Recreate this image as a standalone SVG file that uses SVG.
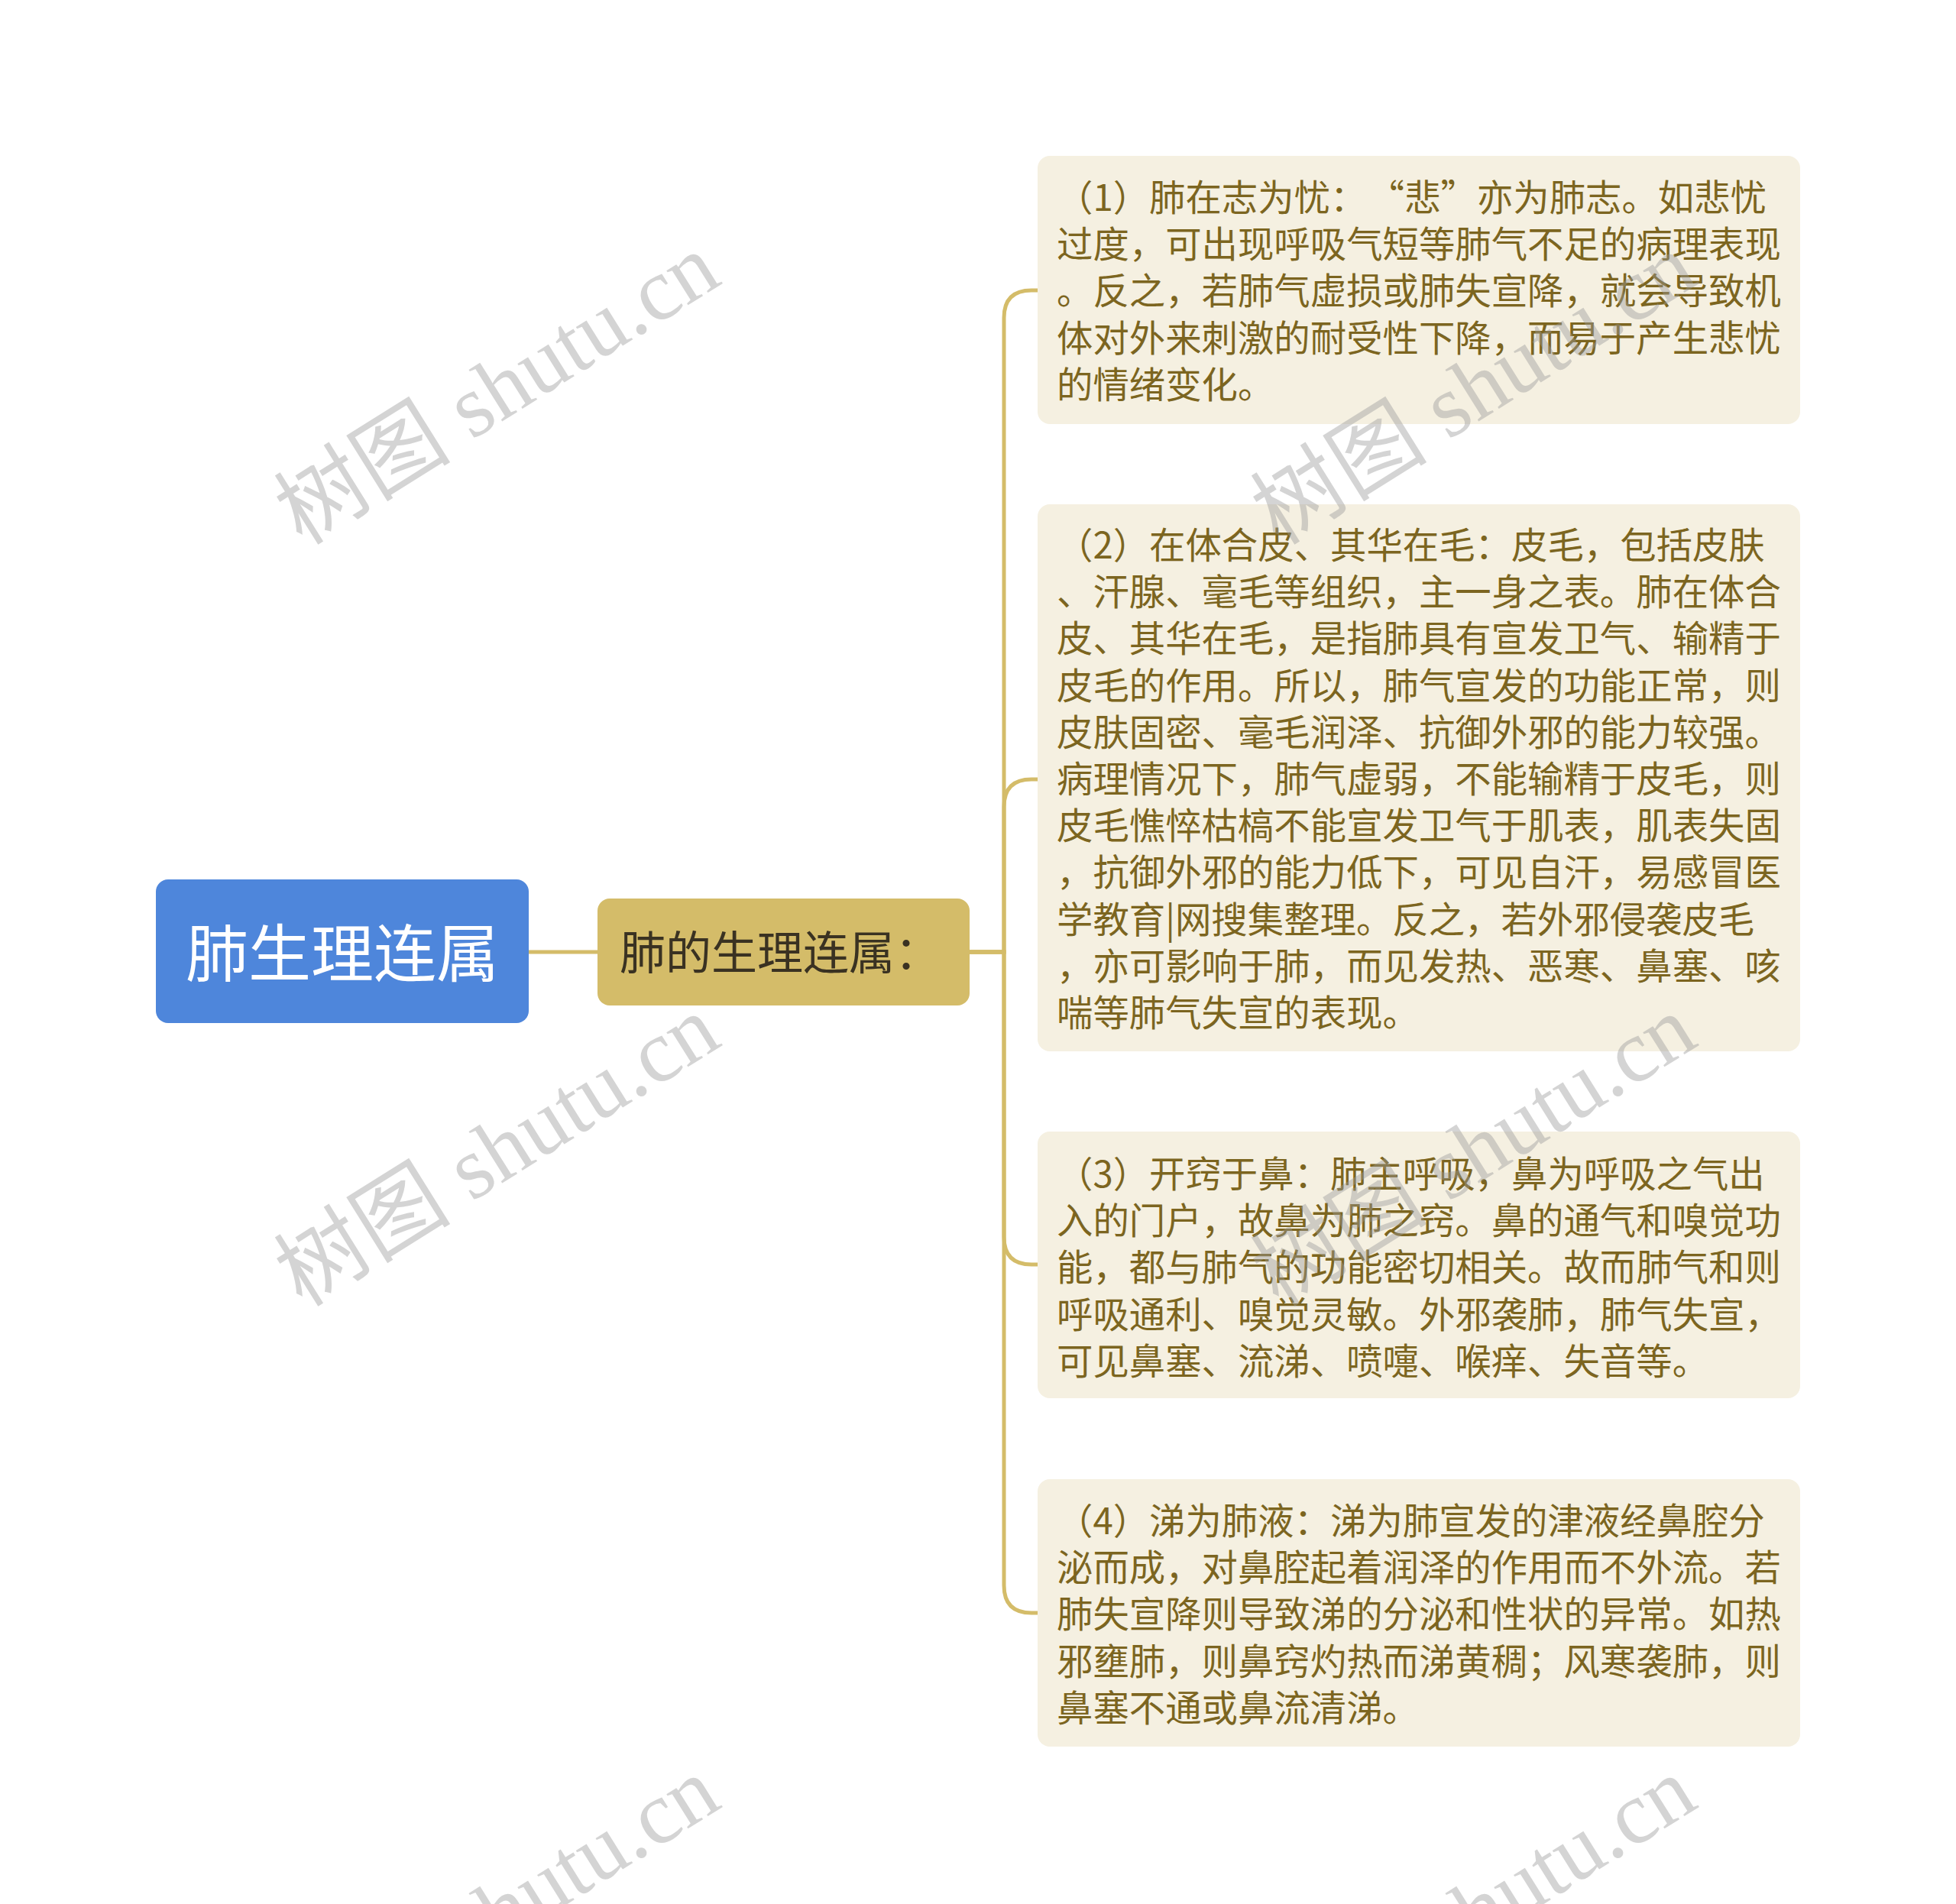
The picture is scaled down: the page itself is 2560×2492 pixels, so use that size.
<svg xmlns="http://www.w3.org/2000/svg" width="2560" height="2492" viewBox="0 0 2560 2492">
<style>
.conn{fill:none;stroke:#D4BC69;stroke-width:5}
.child rect{fill:#F5F0E1}
.child text{font-family:"Noto Sans CJK SC","Noto Sans CJK TC",sans-serif;font-size:47.4px;fill:#7C6520}
.wm{font-family:"Liberation Serif","Noto Sans CJK SC",serif;font-size:116px;fill:#9a9a9a;opacity:0.42}
</style>
<rect width="2560" height="2492" fill="#ffffff"/>
<g id="connectors">
<path class="conn" d="M692 1246 H782"/>
<path class="conn" d="M1269 1246 H1314 V416 Q1314 380 1350 380 H1358"/>
<path class="conn" d="M1269 1246 H1314 V1056 Q1314 1020 1350 1020 H1358"/>
<path class="conn" d="M1269 1246 H1314 V1619 Q1314 1655 1350 1655 H1358"/>
<path class="conn" d="M1269 1246 H1314 V2075 Q1314 2111 1350 2111 H1358"/>
</g>
<g id="root">
<rect x="204" y="1151" width="488" height="188" rx="16" fill="#4E86DB"/>
<text x="448" y="1278" text-anchor="middle" font-family="Noto Sans CJK SC, sans-serif" font-size="82" fill="#ffffff">肺生理连属</text>
</g>
<g id="sub">
<rect x="782" y="1176" width="487" height="140" rx="16" fill="#D4BC69"/>
<text x="811" y="1269" font-family="Noto Sans CJK SC, sans-serif" font-size="60" fill="#3A3222">肺的生理连属：</text>
</g>
<g id="child1" class="child">
<rect x="1358" y="204" width="998" height="351" rx="16"/>
<text><tspan x="1383" y="276">（1）肺在志为忧：</tspan><tspan dx="26">“悲”亦为肺志。如悲忧</tspan><tspan x="1383" dy="61.2">过度，可出现呼吸气短等肺气不足的病理表现</tspan><tspan x="1383" dy="61.2">。反之，若肺气虚损或肺失宣降，就会导致机</tspan><tspan x="1383" dy="61.2">体对外来刺激的耐受性下降，而易于产生悲忧</tspan><tspan x="1383" dy="61.2">的情绪变化。</tspan></text>
</g>
<g id="child2" class="child">
<rect x="1358" y="660" width="998" height="716" rx="16"/>
<text><tspan x="1383" y="731">（2）在体合皮、其华在毛：皮毛，包括皮肤</tspan><tspan x="1383" dy="61.2">、汗腺、毫毛等组织，主一身之表。肺在体合</tspan><tspan x="1383" dy="61.2">皮、其华在毛，是指肺具有宣发卫气、输精于</tspan><tspan x="1383" dy="61.2">皮毛的作用。所以，肺气宣发的功能正常，则</tspan><tspan x="1383" dy="61.2">皮肤固密、毫毛润泽、抗御外邪的能力较强。</tspan><tspan x="1383" dy="61.2">病理情况下，肺气虚弱，不能输精于皮毛，则</tspan><tspan x="1383" dy="61.2">皮毛憔悴枯槁不能宣发卫气于肌表，肌表失固</tspan><tspan x="1383" dy="61.2">，抗御外邪的能力低下，可见自汗，易感冒医</tspan><tspan x="1383" dy="61.2">学教育|网搜集整理。反之，若外邪侵袭皮毛</tspan><tspan x="1383" dy="61.2">，亦可影响于肺，而见发热、恶寒、鼻塞、咳</tspan><tspan x="1383" dy="61.2">喘等肺气失宣的表现。</tspan></text>
</g>
<g id="child3" class="child">
<rect x="1358" y="1481" width="998" height="349" rx="16"/>
<text><tspan x="1383" y="1554">（3）开窍于鼻：肺主呼吸，鼻为呼吸之气出</tspan><tspan x="1383" dy="61.2">入的门户，故鼻为肺之窍。鼻的通气和嗅觉功</tspan><tspan x="1383" dy="61.2">能，都与肺气的功能密切相关。故而肺气和则</tspan><tspan x="1383" dy="61.2">呼吸通利、嗅觉灵敏。外邪袭肺，肺气失宣，</tspan><tspan x="1383" dy="61.2">可见鼻塞、流涕、喷嚏、喉痒、失音等。</tspan></text>
</g>
<g id="child4" class="child">
<rect x="1358" y="1936" width="998" height="350" rx="16"/>
<text><tspan x="1383" y="2008">（4）涕为肺液：涕为肺宣发的津液经鼻腔分</tspan><tspan x="1383" dy="61.2">泌而成，对鼻腔起着润泽的作用而不外流。若</tspan><tspan x="1383" dy="61.2">肺失宣降则导致涕的分泌和性状的异常。如热</tspan><tspan x="1383" dy="61.2">邪壅肺，则鼻窍灼热而涕黄稠；风寒袭肺，则</tspan><tspan x="1383" dy="61.2">鼻塞不通或鼻流清涕。</tspan></text>
</g>
<g id="watermarks">
<text class="wm" text-anchor="middle" dy="0.35em" transform="translate(650 508) rotate(-32)">树图 shutu.cn</text>
<text class="wm" text-anchor="middle" dy="0.35em" transform="translate(1928 508) rotate(-32)">树图 shutu.cn</text>
<text class="wm" text-anchor="middle" dy="0.35em" transform="translate(650 1505) rotate(-32)">树图 shutu.cn</text>
<text class="wm" text-anchor="middle" dy="0.35em" transform="translate(1928 1505) rotate(-32)">树图 shutu.cn</text>
<text class="wm" text-anchor="middle" dy="0.35em" transform="translate(650 2502) rotate(-32)">树图 shutu.cn</text>
<text class="wm" text-anchor="middle" dy="0.35em" transform="translate(1928 2502) rotate(-32)">树图 shutu.cn</text>
</g>
</svg>
